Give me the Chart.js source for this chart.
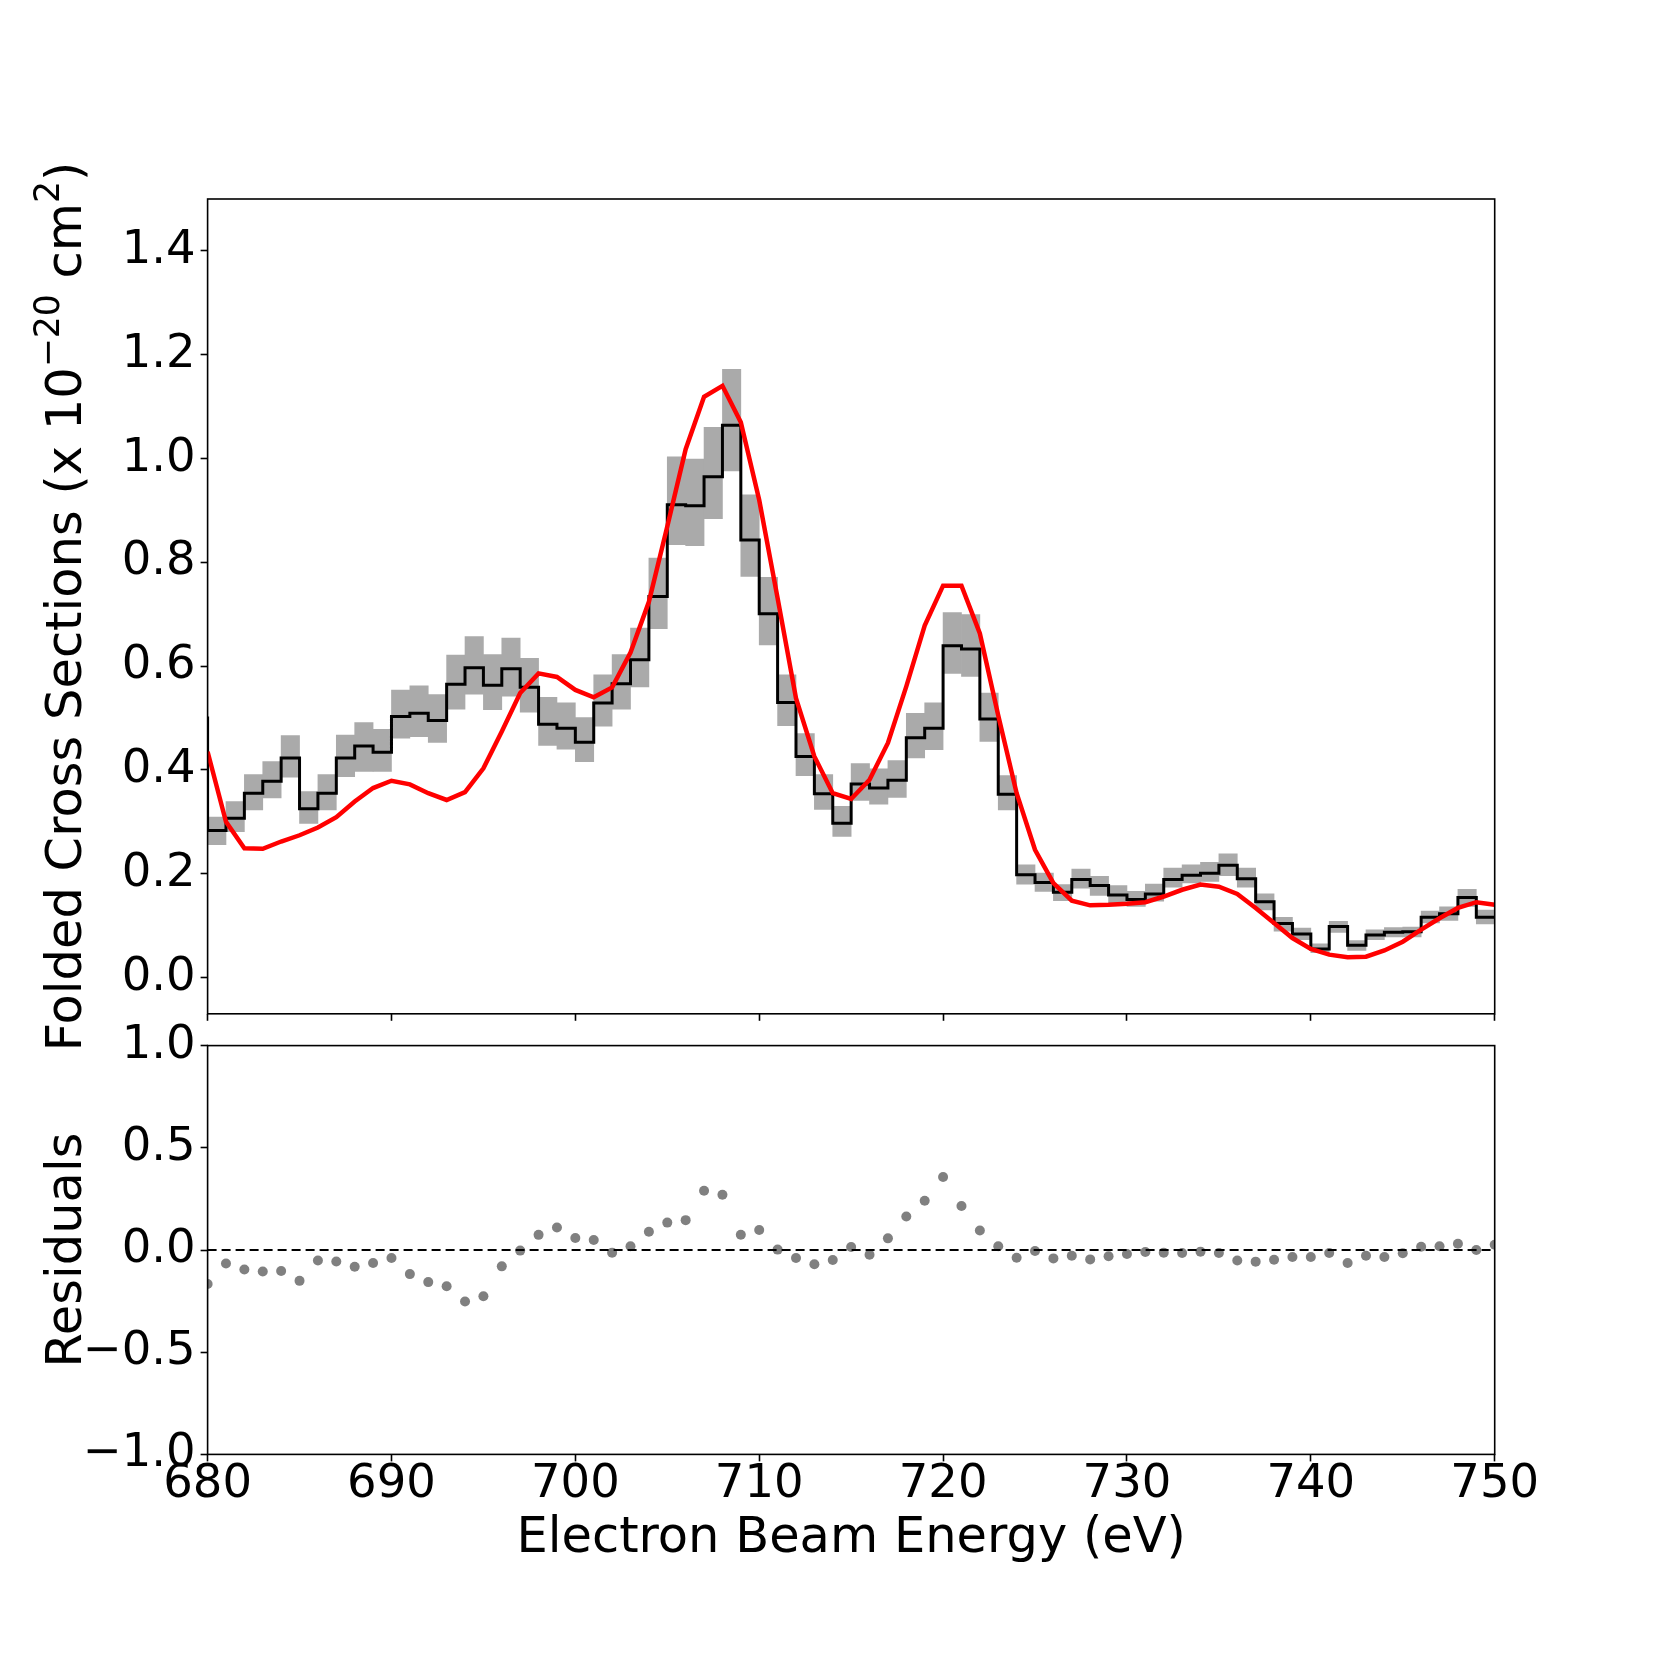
<!DOCTYPE html>
<html>
<head>
<meta charset="utf-8">
<script src="https://cdn.jsdelivr.net/npm/chart.js@4.4.1/dist/chart.umd.min.js"></script>
<style>
  html, body { margin: 0; padding: 0; background: #fff; }
  body { width: 1661px; height: 1661px; position: relative; overflow: hidden; }
  canvas { position: absolute; left: 0; }
  #top-chart { top: 0; }
  #res-chart { top: 990px; }
</style>
</head>
<body>
<canvas id="top-chart" width="1661" height="1100"></canvas>
<canvas id="res-chart" width="1661" height="671"></canvas>
<script>
// Bin lower edges (eV), first bin sits just left of the plotted range
const binStart = [
  679, 680, 681, 682, 683, 684, 685, 686, 687, 688,
  689, 690, 691, 692, 693, 694, 695, 696, 697, 698,
  699, 700, 701, 702, 703, 704, 705, 706, 707, 708,
  709, 710, 711, 712, 713, 714, 715, 716, 717, 718,
  719, 720, 721, 722, 723, 724, 725, 726, 727, 728,
  729, 730, 731, 732, 733, 734, 735, 736, 737, 738,
  739, 740, 741, 742, 743, 744, 745, 746, 747, 748,
  749
];

// Measured folded cross sections (x 1e-20 cm2), one per bin
const folded = [
  0.500, 0.283, 0.307, 0.355, 0.378, 0.423, 0.325, 0.355, 0.423, 0.446,
  0.434, 0.503, 0.509, 0.495, 0.565, 0.597, 0.563, 0.595, 0.559, 0.488,
  0.480, 0.453, 0.529, 0.566, 0.612, 0.734, 0.911, 0.909, 0.965, 1.064,
  0.843, 0.701, 0.530, 0.426, 0.354, 0.297, 0.373, 0.365, 0.380, 0.462,
  0.480, 0.639, 0.633, 0.498, 0.353, 0.198, 0.183, 0.164, 0.189, 0.177,
  0.159, 0.150, 0.161, 0.189, 0.197, 0.201, 0.216, 0.190, 0.146, 0.104,
  0.084, 0.055, 0.098, 0.062, 0.082, 0.087, 0.088, 0.116, 0.123, 0.154,
  0.116
];

// Error band limits per bin
const bandLow = [
  null, 0.256, 0.281, 0.323, 0.346, 0.386, 0.297, 0.323, 0.387, 0.397,
  0.397, 0.461, 0.464, 0.453, 0.517, 0.546, 0.516, 0.542, 0.511, 0.447,
  0.440, 0.416, 0.484, 0.517, 0.560, 0.672, 0.834, 0.832, 0.884, 0.976,
  0.773, 0.641, 0.485, 0.389, 0.324, 0.272, 0.341, 0.334, 0.347, 0.423,
  0.439, 0.586, 0.580, 0.455, 0.323, 0.180, 0.166, 0.148, 0.172, 0.158,
  0.142, 0.137, 0.147, 0.174, 0.182, 0.185, 0.196, 0.174, 0.130, 0.089,
  0.073, 0.048, 0.087, 0.052, 0.073, 0.078, 0.078, 0.105, 0.110, 0.137,
  0.103
];
const bandHigh = [
  null, 0.309, 0.339, 0.391, 0.416, 0.466, 0.358, 0.391, 0.467, 0.491,
  0.478, 0.554, 0.562, 0.545, 0.621, 0.657, 0.622, 0.654, 0.615, 0.540,
  0.529, 0.501, 0.583, 0.622, 0.673, 0.808, 1.003, 0.999, 1.060, 1.172,
  0.930, 0.771, 0.583, 0.470, 0.391, 0.330, 0.412, 0.402, 0.418, 0.509,
  0.529, 0.703, 0.699, 0.548, 0.389, 0.217, 0.201, 0.179, 0.209, 0.195,
  0.177, 0.166, 0.180, 0.211, 0.217, 0.222, 0.238, 0.211, 0.161, 0.116,
  0.095, 0.065, 0.108, 0.071, 0.092, 0.096, 0.097, 0.128, 0.136, 0.170,
  0.130
];

// Model curve and residuals, sampled at each integer energy
const energy = [
  680, 681, 682, 683, 684, 685, 686, 687, 688, 689,
  690, 691, 692, 693, 694, 695, 696, 697, 698, 699,
  700, 701, 702, 703, 704, 705, 706, 707, 708, 709,
  710, 711, 712, 713, 714, 715, 716, 717, 718, 719,
  720, 721, 722, 723, 724, 725, 726, 727, 728, 729,
  730, 731, 732, 733, 734, 735, 736, 737, 738, 739,
  740, 741, 742, 743, 744, 745, 746, 747, 748, 749,
  750
];
const model = [
  0.435, 0.300, 0.249, 0.248, 0.262, 0.274, 0.289, 0.309, 0.339, 0.365,
  0.379, 0.372, 0.355, 0.342, 0.357, 0.403, 0.474, 0.548, 0.586, 0.579,
  0.554, 0.540, 0.559, 0.626, 0.724, 0.869, 1.018, 1.119, 1.140, 1.070,
  0.920, 0.731, 0.538, 0.426, 0.355, 0.344, 0.381, 0.452, 0.561, 0.678,
  0.755, 0.755, 0.663, 0.505, 0.355, 0.246, 0.182, 0.148, 0.139, 0.140,
  0.142, 0.145, 0.156, 0.169, 0.179, 0.175, 0.161, 0.134, 0.105, 0.076,
  0.055, 0.044, 0.039, 0.040, 0.052, 0.069, 0.092, 0.114, 0.134, 0.145,
  0.140
];
const residuals = [
  -0.166, -0.066, -0.095, -0.105, -0.103, -0.151, -0.051, -0.056, -0.082, -0.064,
  -0.039, -0.118, -0.157, -0.177, -0.252, -0.226, -0.080, -0.003, 0.074, 0.110,
  0.059, 0.049, -0.013, 0.018, 0.089, 0.134, 0.146, 0.290, 0.270, 0.075,
  0.098, 0.002, -0.039, -0.070, -0.049, 0.015, -0.023, 0.057, 0.164, 0.241,
  0.357, 0.215, 0.095, 0.018, -0.038, -0.005, -0.041, -0.028, -0.046, -0.031,
  -0.020, -0.010, -0.013, -0.015, -0.008, -0.015, -0.051, -0.057, -0.048, -0.034,
  -0.034, -0.015, -0.064, -0.028, -0.034, -0.016, 0.016, 0.018, 0.031, 0.000,
  0.026
];

// Tick labels
const xTicks = [680, 690, 700, 710, 720, 730, 740, 750];
const topYTicks = [0.0, 0.2, 0.4, 0.6, 0.8, 1.0, 1.2, 1.4];
const resYTicks = [-1.0, -0.5, 0.0, 0.5, 1.0];

// Y label of the top panel, with superscript pieces
const topYLabel = [
  { text: 'Folded Cross Sections (x 10', sup: false },
  { text: '\u221220', sup: true },
  { text: ' cm', sup: false },
  { text: '2', sup: true },
  { text: ')', sup: false }
];

const TICK_FONT = { family: 'DejaVu Sans', size: 46.5 };
const TITLE_FONT = { family: 'DejaVu Sans', size: 49.5 };
const AXIS_W = 207.6;   // left axis box width, same for both panels
const RIGHT_PAD = 166.3;
const YLABEL_X = 68;    // centre of the rotated y labels

Chart.defaults.font.family = 'DejaVu Sans';
Chart.defaults.color = '#000';

// helpers for scale callbacks
const setTicks = values => scale => { scale.ticks = values.map(v => ({ value: v })); };
const fixWidth = w => scale => { scale.width = w; scale.paddingTop = 0; scale.paddingBottom = 0; };
const fixHeight = h => scale => { scale.height = h; scale.paddingLeft = 0; scale.paddingRight = 0; };
const fmt1 = v => Number(v).toFixed(1).replace('-', '\u2212');

const tickGrid = { drawOnChartArea: false, offset: false, color: '#000', tickLength: 7, tickWidth: 1.6 };

// box around the plot area (like matplotlib spines)
const framePlugin = {
  id: 'frame',
  afterDatasetsDraw(chart) {
    const { ctx, chartArea: a } = chart;
    ctx.save();
    ctx.strokeStyle = '#000';
    ctx.lineWidth = 1.6;
    ctx.strokeRect(a.left, a.top, a.right - a.left, a.bottom - a.top);
    ctx.restore();
  }
};

// rotated y label with superscripts (top panel)
const richLabelPlugin = {
  id: 'richLabel',
  afterDraw(chart) {
    const { ctx, chartArea: a } = chart;
    const size = TITLE_FONT.size;
    const supSize = size * 0.7;
    const font = s => s + 'px "DejaVu Sans"';
    ctx.save();
    let total = 0;
    const widths = topYLabel.map(p => {
      ctx.font = font(p.sup ? supSize : size);
      const w = ctx.measureText(p.text).width;
      total += w;
      return w;
    });
    ctx.translate(YLABEL_X, (a.top + a.bottom) / 2);
    ctx.rotate(-Math.PI / 2);
    ctx.fillStyle = '#000';
    ctx.textBaseline = 'middle';
    ctx.textAlign = 'left';
    let x = -total / 2;
    topYLabel.forEach((p, i) => {
      ctx.font = font(p.sup ? supSize : size);
      ctx.fillText(p.text, x, p.sup ? -size * 0.36 : 0);
      x += widths[i];
    });
    ctx.restore();
  }
};

// datasets
const bandData = [];
binStart.forEach((e, i) => {
  if (bandLow[i] !== null) bandData.push({ x: e + 0.5, y: [bandLow[i], bandHigh[i]] });
});
const stepData = binStart.map((e, i) => ({ x: e, y: folded[i] }));
stepData.push({ x: binStart[binStart.length - 1] + 1, y: folded[folded.length - 1] });
const modelData = energy.map((e, i) => ({ x: e, y: model[i] }));
const residData = energy.map((e, i) => ({ x: e, y: residuals[i] }));
const zeroLine = [{ x: xTicks[0], y: 0 }, { x: xTicks[xTicks.length - 1], y: 0 }];

new Chart(document.getElementById('top-chart'), {
  type: 'line',
  data: {
    datasets: [
      {
        type: 'bar', label: 'error', data: bandData,
        backgroundColor: '#aaaaaa', borderWidth: 0,
        barPercentage: 1, categoryPercentage: 1, grouped: false, order: 3
      },
      {
        label: 'folded', data: stepData, stepped: 'before',
        borderColor: '#000', borderWidth: 3, pointRadius: 0, fill: false, order: 2
      },
      {
        label: 'model', data: modelData,
        borderColor: '#ff0000', borderWidth: 4.5, pointRadius: 0, tension: 0, fill: false, order: 1
      }
    ]
  },
  options: {
    responsive: false,
    animation: false,
    devicePixelRatio: 1,
    layout: { padding: { left: 0, right: RIGHT_PAD, top: 199, bottom: 0 } },
    plugins: { legend: { display: false }, tooltip: { enabled: false } },
    scales: {
      x: {
        type: 'linear', min: 680, max: 750, offset: false,
        afterBuildTicks: setTicks(xTicks),
        afterFit: fixHeight(86.2),
        ticks: { display: false },
        grid: tickGrid,
        border: { display: false }
      },
      y: {
        type: 'linear', min: -0.07, max: 1.5,
        afterBuildTicks: setTicks(topYTicks),
        afterFit: fixWidth(AXIS_W),
        ticks: { font: TICK_FONT, color: '#000', padding: 5, callback: fmt1 },
        grid: tickGrid,
        border: { display: false }
      }
    }
  },
  plugins: [framePlugin, richLabelPlugin]
});

new Chart(document.getElementById('res-chart'), {
  type: 'line',
  data: {
    datasets: [
      {
        label: 'zero', data: zeroLine,
        borderColor: '#000', borderWidth: 2, borderDash: [9, 5], pointRadius: 0, order: 1
      },
      {
        label: 'residuals', data: residData, showLine: false,
        pointRadius: 5, pointBackgroundColor: '#808080', pointBorderColor: '#808080',
        pointBorderWidth: 0, order: 2
      }
    ]
  },
  options: {
    responsive: false,
    animation: false,
    devicePixelRatio: 1,
    layout: { padding: { left: 0, right: RIGHT_PAD, top: 55.6, bottom: 0 } },
    plugins: { legend: { display: false }, tooltip: { enabled: false } },
    scales: {
      x: {
        type: 'linear', min: 680, max: 750, offset: false,
        afterBuildTicks: setTicks(xTicks),
        afterFit: fixHeight(206.6),
        ticks: { font: TICK_FONT, color: '#000', padding: -4, maxRotation: 0, autoSkip: false,
                 callback: v => String(v) },
        grid: tickGrid,
        border: { display: false },
        title: {
          display: true, text: 'Electron Beam Energy (eV)',
          font: TITLE_FONT, color: '#000',
          padding: { top: 0, bottom: 92.3 }
        }
      },
      y: {
        type: 'linear', min: -1, max: 1,
        afterBuildTicks: setTicks(resYTicks),
        afterFit: fixWidth(AXIS_W),
        ticks: { font: TICK_FONT, color: '#000', padding: 5, callback: fmt1 },
        grid: tickGrid,
        border: { display: false },
        title: {
          display: true, text: 'Residuals',
          font: TITLE_FONT, color: '#000',
          padding: { top: YLABEL_X - TITLE_FONT.size * 0.6, bottom: 0 }
        }
      }
    }
  },
  plugins: [framePlugin]
});
</script>
</body>
</html>
